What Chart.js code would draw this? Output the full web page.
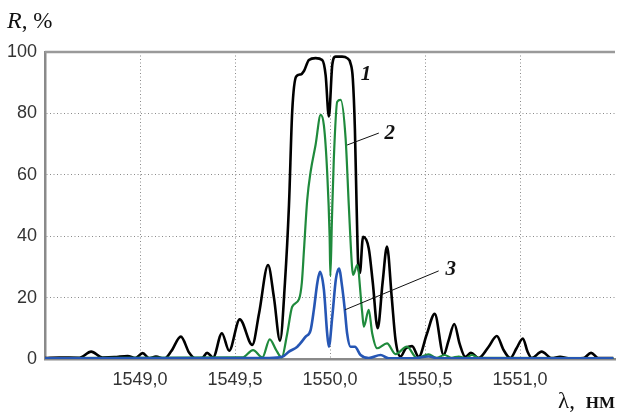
<!DOCTYPE html>
<html>
<head>
<meta charset="utf-8">
<script src="https://cdn.jsdelivr.net/npm/chart.js@4/dist/chart.umd.min.js"></script>
<style>
  html, body { margin: 0; padding: 0; background: #fff; }
  #wrap { width: 619px; height: 414px; position: relative; }
</style>
</head>
<body>
<div id="wrap"><canvas id="myChart"></canvas></div>
<script>
// wavelength (nm) and reflectance (%)

// curve 1 (black)
var lambda1 = [1548.500, 1548.576, 1548.681, 1548.743, 1548.802, 1548.865, 1548.935, 1548.975, 1549.014, 1549.049,
  1549.084, 1549.128, 1549.164, 1549.215, 1549.259, 1549.290, 1549.327, 1549.353, 1549.385, 1549.431,
  1549.469, 1549.525, 1549.591, 1549.627, 1549.674, 1549.705, 1549.737, 1549.763, 1549.784, 1549.801,
  1549.822, 1549.846, 1549.863, 1549.889, 1549.924, 1549.959, 1549.977, 1549.994, 1550.012, 1550.029,
  1550.064, 1550.090, 1550.108, 1550.120, 1550.131, 1550.140, 1550.149, 1550.157, 1550.174, 1550.204,
  1550.225, 1550.251, 1550.277, 1550.300, 1550.325, 1550.345, 1550.371, 1550.399, 1550.432, 1550.467,
  1550.509, 1550.551, 1550.598, 1550.624, 1550.654, 1550.682, 1550.712, 1550.742, 1550.782, 1550.835,
  1550.878, 1550.913, 1550.949, 1550.982, 1551.015, 1551.039, 1551.062, 1551.114, 1551.167, 1551.211,
  1551.255, 1551.334, 1551.374, 1551.412, 1551.491];
var r1 = [0.3, 0.5, 0.4, 2.4, 0.5, 0.6, 1.0, 0.3, 1.9, 0.2,
  0.8, 0.1, 2.5, 7.3, 2.0, 0.2, 0.3, 2.0, 0.5, 8.4,
  2.7, 12.9, 4.6, 15, 30.6, 20, 6.0, 25, 50, 80.5,
  92, 92.7, 93.8, 97.4, 98, 97.4, 92.5, 79, 95.8, 98.5,
  98.5, 98, 96.3, 91.4, 75, 50, 30, 28, 39.8, 36,
  25, 10, 25, 36.6, 20, 6.2, 0.8, 3.5, 4.2, 0.7,
  8, 14.7, 1.3, 6, 11.4, 5, 0.7, 2, 0.3, 4,
  7.5, 3, 0.3, 3.5, 6.7, 2.5, 0.3, 2.4, 0.3, 0.7,
  0.2, 0.3, 2, 0.3, 0.3];

// curve 2 (green)
var lambda2 = [1548.500, 1549.539, 1549.595, 1549.644, 1549.683, 1549.716, 1549.746, 1549.774, 1549.801, 1549.837,
  1549.852, 1549.863, 1549.880, 1549.898, 1549.924, 1549.951, 1549.968, 1549.985, 1549.998, 1550.002,
  1550.010, 1550.020, 1550.038, 1550.056, 1550.082, 1550.099, 1550.116, 1550.122, 1550.143, 1550.169,
  1550.178, 1550.204, 1550.222, 1550.248, 1550.300, 1550.345, 1550.405, 1550.458, 1550.519, 1550.561,
  1550.603, 1550.640, 1550.677, 1550.714, 1550.747, 1550.782, 1551.491];
var r2 = [0.3, 0.5, 2.9, 0.5, 6.4, 3, 0.5, 8, 17, 19.5,
  25, 35.5, 51.8, 61, 69.7, 79.5, 76, 61, 40, 27,
  45, 65, 83.8, 84.4, 72, 50, 30, 27.4, 30.6, 15.4,
  10.5, 16, 8.4, 3.5, 5.1, 1.6, 4, 0.3, 1.5, 0.4,
  1.3, 0.4, 0.8, 0.3, 1.3, 0.4, 0.3];

// curve 3 (blue)
var lambda3 = [1548.500, 1549.679, 1549.749, 1549.784, 1549.828, 1549.872, 1549.898, 1549.915, 1549.933, 1549.947,
  1549.968, 1549.985, 1549.994, 1550.012, 1550.031, 1550.047, 1550.064, 1550.078, 1550.090, 1550.108,
  1550.131, 1550.161, 1550.204, 1550.266, 1550.309, 1550.425, 1550.519, 1550.572, 1551.491];
var r3 = [0.2, 0.3, 0.7, 2.4, 4, 7.3, 9.4, 16, 24.7, 28.4,
  22.5, 8.4, 4, 13.8, 26, 29.5, 23.5, 16, 8.4, 4,
  4, 1.3, 0.3, 1.3, 0.2, 0.2, 0.8, 0.2, 0.2];

// axis ticks
var xTicks = [1549.0, 1549.5, 1550.0, 1550.5, 1551.0];
var yTicks = [0, 20, 40, 60, 80, 100];

// curve labels and leader lines, in data units
var curveLabels = [
  { text: '1', x: 1550.189, y: 92.8 },
  { text: '2', x: 1550.315, y: 73.3, from: [1550.257, 73.6], to: [1550.090, 69.7] },
  { text: '3', x: 1550.635, y: 29.0, from: [1550.572, 28.7], to: [1550.078, 16.0] }
];

function pts(xs, ys) {
  return xs.map(function (v, i) { return { x: v, y: ys[i] }; });
}

var overlay = {
  id: 'overlay',
  beforeDatasetsDraw: function (chart) {
    var ctx = chart.ctx, a = chart.chartArea, y = chart.scales.y;
    // solid top frame line at 100
    ctx.save();
    ctx.strokeStyle = '#9a9a9a';
    ctx.lineWidth = 2.5;
    ctx.beginPath();
    ctx.moveTo(a.left, y.getPixelForValue(100));
    ctx.lineTo(a.right, y.getPixelForValue(100));
    ctx.stroke();
    ctx.restore();
  },
  afterDraw: function (chart) {
    var ctx = chart.ctx, x = chart.scales.x, y = chart.scales.y;
    ctx.save();
    ctx.fillStyle = '#111';
    ctx.strokeStyle = '#111';
    // leader lines
    ctx.lineWidth = 1;
    curveLabels.forEach(function (c) {
      if (!c.from) return;
      ctx.beginPath();
      ctx.moveTo(x.getPixelForValue(c.from[0]), y.getPixelForValue(c.from[1]));
      ctx.lineTo(x.getPixelForValue(c.to[0]), y.getPixelForValue(c.to[1]));
      ctx.stroke();
    });
    ctx.textAlign = 'center';
    ctx.textBaseline = 'middle';
    ctx.font = 'italic bold 21px "Liberation Serif", "DejaVu Serif", serif';
    curveLabels.forEach(function (c) {
      ctx.fillText(c.text, x.getPixelForValue(c.x), y.getPixelForValue(c.y));
    });
    // axis titles
    ctx.textAlign = 'left';
    ctx.textBaseline = 'alphabetic';
    ctx.font = 'italic 24px "Liberation Serif", serif';
    ctx.fillText('R', 7, 28);
    var w = ctx.measureText('R').width;
    ctx.font = '23px "Liberation Serif", serif';
    ctx.fillText(', %', 7 + w, 28);
    ctx.textAlign = 'left';
    ctx.font = '23px "Liberation Serif", serif';
    ctx.fillText('\u03bb,', 558, 408);
    ctx.textAlign = 'right';
    ctx.font = 'bold 17px "Liberation Serif", serif';
    ctx.fillText('\u041d\u041c', 615, 408);
    ctx.restore();
  }
};

var gridDash = [1, 2.5];

new Chart(document.getElementById('myChart'), {
  type: 'line',
  data: {
    datasets: [
      { label: '1', data: pts(lambda1, r1), borderColor: '#000000', borderWidth: 2.6, order: 3 },
      { label: '2', data: pts(lambda2, r2), borderColor: '#1f8a3c', borderWidth: 2.2, order: 2 },
      { label: '3', data: pts(lambda3, r3), borderColor: '#2656b4', borderWidth: 2.6, order: 1 }
    ]
  },
  plugins: [overlay],
  options: {
    responsive: true,
    maintainAspectRatio: false,
    animation: false,
    events: [],
    layout: { padding: { top: 52, right: 4, left: 0, bottom: 0 } },
    elements: {
      point: { radius: 0 },
      line: { cubicInterpolationMode: 'monotone', fill: false, borderJoinStyle: 'round' }
    },
    plugins: { legend: { display: false }, tooltip: { enabled: false } },
    scales: {
      x: {
        type: 'linear',
        min: 1548.5,
        max: 1551.5,
        afterFit: function (s) { s.height = 55; },
        afterBuildTicks: function (s) {
          s.ticks = xTicks.map(function (v) { return { value: v }; });
        },
        ticks: {
          padding: 10,
          color: '#333',
          font: { family: '"Liberation Sans", Arial, sans-serif', size: 18 },
          callback: function (v) { return v.toFixed(1).replace('.', ','); }
        },
        grid: { color: '#8a8a8a', lineWidth: 1, drawTicks: false },
        border: { display: true, color: '#8a8a8a', width: 2.5, dash: gridDash }
      },
      y: {
        min: 0,
        max: 100,
        afterFit: function (s) { s.width = 45; },
        afterBuildTicks: function (s) {
          s.ticks = yTicks.map(function (v) { return { value: v }; });
        },
        ticks: {
          padding: 8,
          color: '#333',
          font: { family: '"Liberation Sans", Arial, sans-serif', size: 18 }
        },
        grid: {
          color: function (c) { return (c.tick && (c.tick.value === 0 || c.tick.value === 100)) ? 'rgba(0,0,0,0)' : '#8a8a8a'; },
          lineWidth: 1,
          drawTicks: false
        },
        border: { display: true, color: '#8a8a8a', width: 2.5, dash: gridDash }
      }
    }
  }
});
</script>
</body>
</html>
